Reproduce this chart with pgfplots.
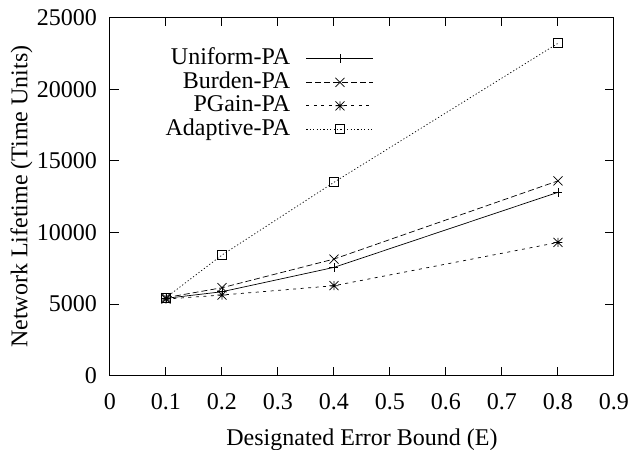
\documentclass[border=0pt]{standalone}
\usepackage{fontspec}
\setmainfont{Liberation Serif}
\usepackage{pgfplots}
\pgfplotsset{compat=1.18}
\pgfdeclareplotmark{gpstar}{%
 \pgfpathmoveto{\pgfqpoint{-\pgfplotmarksize}{0pt}}\pgfpathlineto{\pgfqpoint{\pgfplotmarksize}{0pt}}%
 \pgfpathmoveto{\pgfqpoint{0pt}{-\pgfplotmarksize}}\pgfpathlineto{\pgfqpoint{0pt}{\pgfplotmarksize}}%
 \pgfpathmoveto{\pgfqpoint{-\pgfplotmarksize}{-\pgfplotmarksize}}\pgfpathlineto{\pgfqpoint{\pgfplotmarksize}{\pgfplotmarksize}}%
 \pgfpathmoveto{\pgfqpoint{-\pgfplotmarksize}{\pgfplotmarksize}}\pgfpathlineto{\pgfqpoint{\pgfplotmarksize}{-\pgfplotmarksize}}%
 \pgfusepathqstroke}
\begin{document}
\fontsize{24bp}{28bp}\selectfont
\begin{tikzpicture}
\begin{axis}[name=ax, scale only axis, width=504bp, height=358.2bp,
 xmin=0, xmax=0.9, ymin=0, ymax=25000,
 xtick={0,0.1,0.2,0.3,0.4,0.5,0.6,0.7,0.8,0.9},
 ytick={0,5000,10000,15000,20000,25000},
 scaled y ticks=false, scaled x ticks=false,
 /pgf/number format/assume math mode=true,
 yticklabel style={/pgf/number format/1000 sep={}, xshift=-5bp},
 xticklabel style={/pgf/number format/fixed, yshift=-10bp},
 xlabel style={yshift=-2bp},
 ylabel style={yshift=-12bp},
 tick align=inside, major tick length=9bp,
 axis line style={line width=1bp},
 every tick/.style={black, line width=1bp},
 xlabel={Designated Error Bound (E)}, ylabel={Network Lifetime (Time Units)},
 legend style={draw=none, fill=none, at={(0.5238,0.918)}, anchor=north east,
   inner sep=0pt, column sep=15bp, nodes={inner sep=1bp, text height=16.5bp, text depth=5bp}},
 legend cell align=right,
 legend plot pos=right,
 legend image code/.code={\draw[mark repeat=2,mark phase=2,#1] plot coordinates {(0bp,0bp) (33.5bp,0bp) (67bp,0bp)};},
 every axis plot/.append style={black, line width=0.7bp, mark size=4.5bp, mark options={solid}},
]
\addplot[mark=+] coordinates {(0.1,5400) (0.2,5860) (0.4,7560) (0.8,12800)};
\addlegendentry{Uniform-PA}
\addplot[mark=x, mark size=6.4bp, dash pattern=on 6bp off 3bp] coordinates {(0.1,5450) (0.2,6140) (0.4,8140) (0.8,13600)};
\addlegendentry{Burden-PA}
\addplot[mark=gpstar, dash pattern=on 3bp off 4.5bp] coordinates {(0.1,5350) (0.2,5630) (0.4,6280) (0.8,9300)};
\addlegendentry{PGain-PA}
\addplot[mark=square, dash pattern=on 1.2bp off 2.2bp] coordinates {(0.1,5450) (0.2,8420) (0.4,13500) (0.8,23200)};
\addlegendentry{Adaptive-PA}
\end{axis}
\pgfresetboundingbox
\path ([shift={(-110bp,-74.3bp)}]ax.south west) rectangle ([shift={(523bp,375.7bp)}]ax.south west);
\end{tikzpicture}
\end{document}
